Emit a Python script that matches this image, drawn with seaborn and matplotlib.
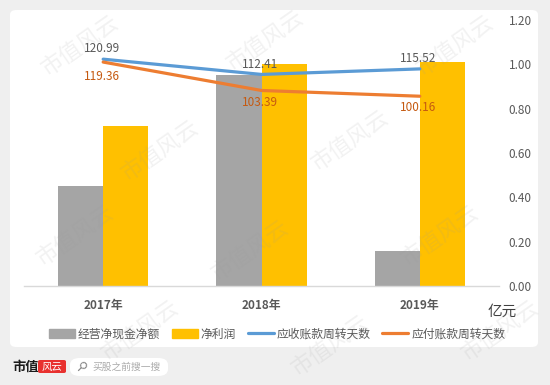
"""Bar + line combo chart: cash flow vs. net profit, with turnover days."""

import seaborn as sns
import matplotlib.pyplot as plt
import matplotlib.patches as mpatches
import matplotlib.lines as mlines
from matplotlib.patches import FancyBboxPatch
import numpy as np
import pandas as pd

# data
years = ['2017年', '2018年', '2019年']
cash_flow = [0.45, 0.95, 0.16]        # 经营净现金净额 (亿元)
net_profit = [0.72, 1.00, 1.01]       # 净利润 (亿元)
receivable_days = [120.99, 112.41, 115.52]   # 应收账款周转天数
payable_days = [119.36, 103.39, 100.16]      # 应付账款周转天数
bar_names = ['经营净现金净额', '净利润']
line_names = ['应收账款周转天数', '应付账款周转天数']

# colours
bar_colors = {'经营净现金净额': '#A5A5A5', '净利润': '#FFC000'}
blue = '#5B9BD5'
orange = '#ED7D31'
text_gray = '#595959'

sns.set_theme(style='white')
plt.rcParams['font.family'] = ['Noto Sans CJK SC', 'DejaVu Sans']

W, H = 550, 385
fig = plt.figure(figsize=(W / 100, H / 100), dpi=100, facecolor='#efefef')

# white card
card = FancyBboxPatch((10 / W, 38 / H), 528 / W, 337 / H,
                      boxstyle='round,pad=0,rounding_size=0.012',
                      transform=fig.transFigure, facecolor='white',
                      edgecolor='none', zorder=-5)
fig.patches.append(card)

ax = fig.add_axes([24 / W, 99 / H, 475 / W, 266 / H])
ax.patch.set_alpha(0)

bars = pd.DataFrame({
    'year': years * 2,
    'value': cash_flow + net_profit,
    'kind': [bar_names[0]] * 3 + [bar_names[1]] * 3,
})
sns.barplot(data=bars, x='year', y='value', hue='kind', palette=bar_colors,
            width=0.572, gap=0, linewidth=0, saturation=1, legend=False, ax=ax)

# lines on a hidden secondary axis
ax2 = ax.twinx()
pos = np.arange(len(years))
sns.lineplot(x=pos, y=receivable_days, color=blue, linewidth=2.3, ax=ax2)
sns.lineplot(x=pos, y=payable_days, color=orange, linewidth=2.3, ax=ax2)
ax2.set_ylim(-6.5, 143)
ax2.set_yticks([])
for s in ax2.spines.values():
    s.set_visible(False)

ax.set_ylim(0, 1.2)
ax.set_xlim(-0.5, 2.5)
ax.set_yticks(np.arange(0, 1.21, 0.2))
ax.set_yticklabels([f'{v:.2f}' for v in np.arange(0, 1.21, 0.2)])
ax.yaxis.tick_right()
ax.tick_params(axis='y', length=0, pad=7, labelsize=8.5, labelcolor=text_gray)
ax.tick_params(axis='x', length=0, pad=9, labelsize=8.5, labelcolor=text_gray)
for lab in ax.get_xticklabels():
    lab.set_fontweight('bold')
ax.set_xlabel('')
ax.set_ylabel('')
for s in ['top', 'left', 'right']:
    ax.spines[s].set_visible(False)
ax.spines['bottom'].set_color('#d9d9d9')
ax.spines['bottom'].set_linewidth(1)

for i, v in enumerate(receivable_days):
    ax2.annotate(f'{v:.2f}', (pos[i], v), xytext=(-1, 7.5), textcoords='offset points',
                 ha='center', va='center', fontsize=8.5, color=text_gray)
for i, v in enumerate(payable_days):
    off = -10.5 if i == 0 else -8.3
    ax2.annotate(f'{v:.2f}', (pos[i], v), xytext=(-1, off), textcoords='offset points',
                 ha='center', va='center', fontsize=8.5, color='#C55A11')

fig.text(502 / W, 1 - 312 / H, '亿元', ha='center', va='center',
         fontsize=10.5, color='#404040')

handles = [
    mpatches.Patch(color=bar_colors[bar_names[0]], label=bar_names[0]),
    mpatches.Patch(color=bar_colors[bar_names[1]], label=bar_names[1]),
    mlines.Line2D([], [], color=blue, linewidth=2.3, label=line_names[0]),
    mlines.Line2D([], [], color=orange, linewidth=2.3, label=line_names[1]),
]
fig.legend(handles=handles, loc='center', bbox_to_anchor=(277 / W, 1 - 334 / H),
           ncol=4, frameon=False, fontsize=8.5, handlelength=2.2,
           handleheight=0.7, handletextpad=0.25, columnspacing=1.0,
           labelcolor=text_gray)

# watermark
for (wx, wy) in [(80, 45), (265, 40), (455, 45), (160, 150), (350, 140),
                 (75, 235), (250, 250), (440, 235), (140, 330), (330, 345),
                 (500, 330)]:
    fig.text(wx / W, 1 - wy / H, '市值风云', rotation=35, fontsize=16,
             fontweight='light', color='#9a9a9a', alpha=0.13,
             ha='center', va='center', zorder=10)

# footer
fig.text(12 / W, 1 - 367 / H, '市值', fontsize=9.5, fontweight='bold',
         color='#1a1a1a', ha='left', va='center')
fig.patches.append(FancyBboxPatch((38 / W, 1 - 373 / H), 28 / W, 13 / H,
                                  boxstyle='round,pad=0,rounding_size=0.004',
                                  transform=fig.transFigure, facecolor='#e8312f',
                                  edgecolor='none'))
fig.text(52 / W, 1 - 367 / H, '风云', fontsize=7.5, fontstyle='italic',
         color='white', ha='center', va='center')
fig.patches.append(FancyBboxPatch((70 / W, 1 - 376 / H), 98 / W, 18 / H,
                                  boxstyle='round,pad=0,rounding_size=0.018',
                                  transform=fig.transFigure, facecolor='white',
                                  edgecolor='none'))
fig.text(81 / W, 1 - 367 / H, '⚲', fontsize=9, color='#888888',
         ha='center', va='center', rotation=-45)
fig.text(92 / W, 1 - 367 / H, '买股之前搜一搜', fontsize=7, color='#aaaaaa',
         ha='left', va='center')

plt.savefig('out.png', dpi=100, facecolor=fig.get_facecolor())
